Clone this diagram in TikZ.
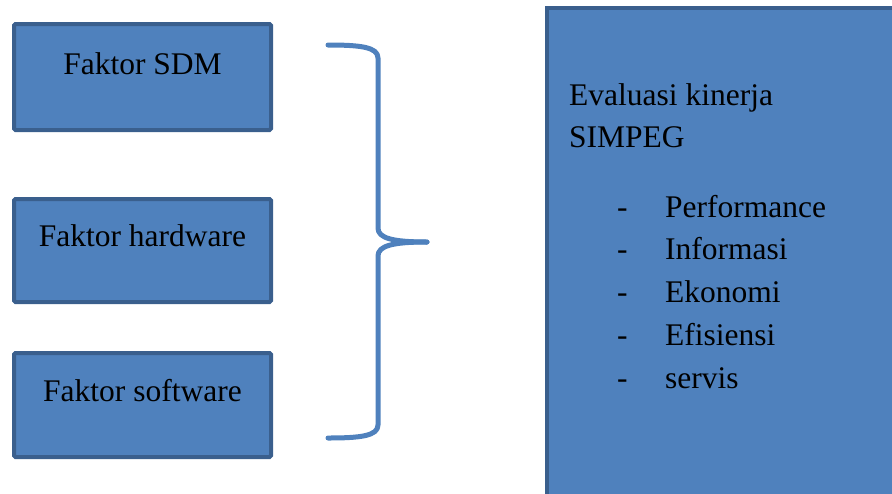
\documentclass[tikz,border=0pt]{standalone}
\usepackage{fontspec}
\newfontfamily\tnrfont{LiberationSerif-Regular.ttf}
\definecolor{boxfill}{HTML}{4F81BD}
\definecolor{boxline}{HTML}{3A5F8D}
\definecolor{bracecol}{HTML}{4F81BD}
\begin{document}
\begin{tikzpicture}[x=1pt,y=-1pt,
  factor/.style={draw=boxline,fill=boxfill,line width=4pt,rounded corners=1.5pt},
  txt/.style={font=\tnrfont\fontsize{31.5}{43}\selectfont,inner sep=0pt,text=black},
  brace/.style={draw=bracecol,line width=5pt,line cap=round,line join=round}]
\useasboundingbox (0,0) rectangle (892,493);
\begin{scope}
\clip (0,0) rectangle (892,493);
% right box
\draw[draw=boxline,fill=boxfill,line width=4pt] (547,8) rectangle (910,510);
\end{scope}
% left boxes
\draw[factor] (14,24) rectangle (271,130);
\draw[factor] (14,199) rectangle (271,302);
\draw[factor] (14,353) rectangle (271,457);
\node[txt,anchor=base] (sdm) at (142.5,74) {Faktor SDM};
\node[txt,anchor=base] (hw) at (142.5,246) {Faktor hardware};
\node[txt,anchor=base] (sw) at (142.5,401) {Faktor software};
% brace
\coordinate (bt) at (328,45);
\coordinate (tip) at (427,242);
\coordinate (bb) at (328,438);
\draw[brace] (bt) .. controls (360,45) and (378,47) .. (378,58)
  -- (378,228) .. controls (378,238) and (392,242) .. (tip);
\draw[brace] (tip) .. controls (392,242) and (378,246) .. (378,256)
  -- (378,425) .. controls (378,436) and (360,438) .. (bb);
% right text
\node[txt,anchor=base west] (ev1) at (569,105) {Evaluasi kinerja};
\node[txt,anchor=base west] (ev2) at (569,147) {SIMPEG};
\foreach \t/\y in {Performance/217,Informasi/259,Ekonomi/302,Efisiensi/345,servis/388}{
  \node[txt,anchor=base west] at (617,\y) {-};
  \node[txt,anchor=base west] at (665,\y) {\t};
}
\end{tikzpicture}
\end{document}
